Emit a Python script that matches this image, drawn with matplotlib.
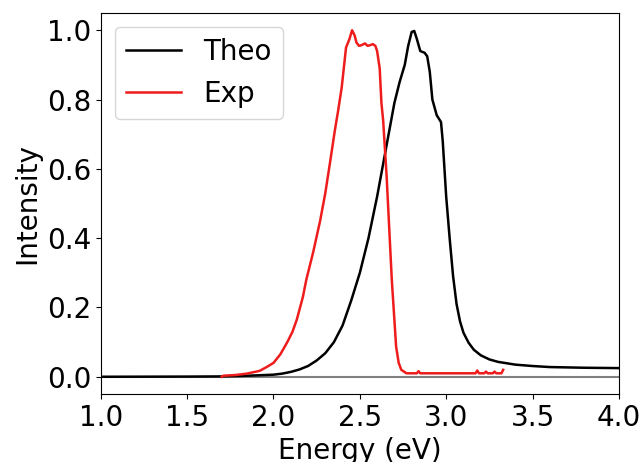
import matplotlib
matplotlib.use('Agg')
import matplotlib.pyplot as plt
from matplotlib.ticker import MultipleLocator

# Theoretical spectrum
theo_E = [1.0, 1.5, 1.7, 1.85, 2.0, 2.05, 2.1, 2.15, 2.2, 2.25, 2.3, 2.35, 2.4,
          2.45, 2.5, 2.55, 2.6, 2.65, 2.7, 2.73, 2.76, 2.78, 2.80, 2.815, 2.83,
          2.85, 2.875, 2.89, 2.905, 2.92, 2.945, 2.97, 2.98, 3.0, 3.02, 3.04, 3.06,
          3.08, 3.10, 3.13, 3.16, 3.2, 3.25, 3.3, 3.4, 3.5, 3.6, 3.8, 4.0]
theo_I = [0.0, 0.0005, 0.001, 0.003, 0.006, 0.009, 0.014, 0.021, 0.031, 0.047,
          0.068, 0.10, 0.148, 0.22, 0.30, 0.40, 0.52, 0.655, 0.79, 0.85, 0.90, 0.955,
          0.995, 0.998, 0.975, 0.94, 0.935, 0.925, 0.88, 0.80, 0.755, 0.735, 0.68,
          0.52, 0.40, 0.29, 0.21, 0.16, 0.127, 0.098, 0.078, 0.062, 0.05, 0.043,
          0.035, 0.031, 0.028, 0.026, 0.025]

# Experimental spectrum
exp_E = [1.70, 1.71, 1.78, 1.845, 1.92, 1.96, 2.0, 2.04, 2.08, 2.11, 2.135, 2.17,
         2.19, 2.23, 2.27, 2.30, 2.33, 2.355, 2.375, 2.395, 2.42, 2.44, 2.455, 2.47,
         2.48, 2.495, 2.51, 2.53, 2.545, 2.56, 2.575, 2.59, 2.60, 2.615, 2.625,
         2.635, 2.645, 2.655, 2.67, 2.685, 2.70, 2.71, 2.725, 2.74, 2.77, 2.83,
         2.84, 2.85, 3.0, 3.17, 3.18, 3.19, 3.22, 3.23, 3.24, 3.27, 3.28, 3.29,
         3.32, 3.33]
exp_I = [0.0, 0.003, 0.005, 0.009, 0.017, 0.028, 0.04, 0.065, 0.10, 0.13, 0.165,
         0.23, 0.28, 0.36, 0.45, 0.53, 0.627, 0.71, 0.77, 0.835, 0.95, 0.975, 1.0,
         0.985, 0.965, 0.955, 0.957, 0.962, 0.955, 0.957, 0.96, 0.955, 0.94, 0.89,
         0.79, 0.74, 0.66, 0.58, 0.43, 0.28, 0.165, 0.087, 0.04, 0.02, 0.01, 0.01,
         0.016, 0.01, 0.01, 0.01, 0.018, 0.01, 0.01, 0.015, 0.01, 0.01, 0.015,
         0.01, 0.01, 0.02]

fig = plt.figure(figsize=(6.42, 4.62), dpi=100)
ax = fig.add_axes([0.157, 0.147, 0.807, 0.825])

ax.axhline(0, color='gray', linewidth=1.5)
ax.plot(theo_E, theo_I, color='black', linewidth=1.8, label='Theo')
ax.plot(exp_E, exp_I, color='#ee1c1c', linewidth=1.8, label='Exp')

ax.set_xlim(1.0, 4.0)
ax.set_ylim(-0.05, 1.05)
ax.xaxis.set_major_locator(MultipleLocator(0.5))
ax.yaxis.set_major_locator(MultipleLocator(0.2))
ax.set_xlabel('Energy (eV)', fontsize=20)
ax.set_ylabel('Intensity', fontsize=20)
ax.tick_params(labelsize=20)
ax.legend(loc='upper left', fontsize=20)

fig.savefig('out.png', dpi=100)
